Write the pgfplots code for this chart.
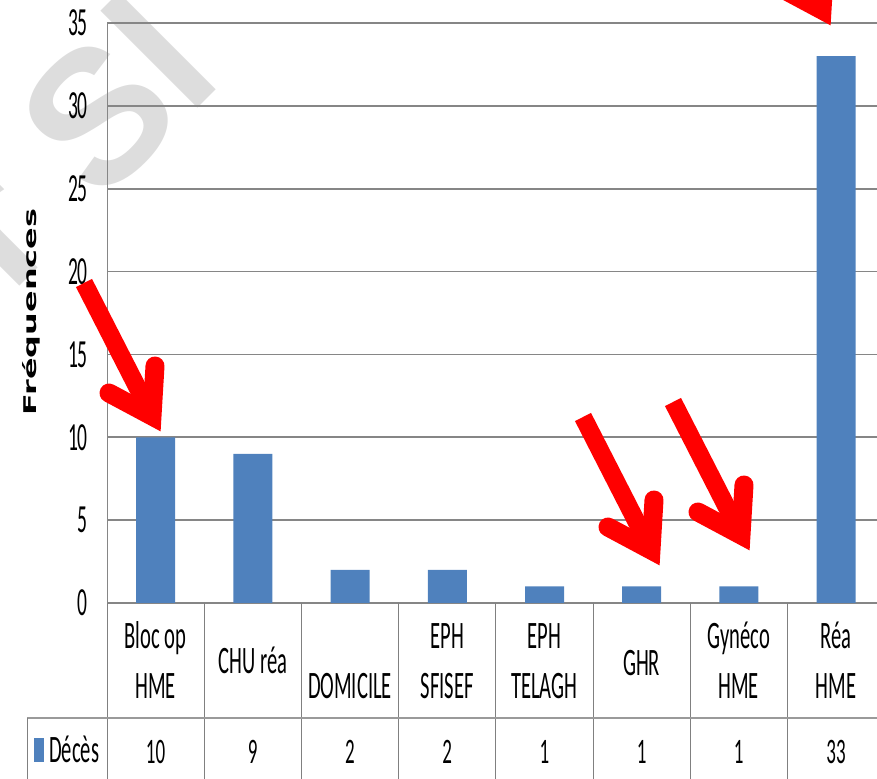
\documentclass[border=0pt]{standalone}
\usepackage{fontspec}
\setmainfont{Carlito}
\newfontfamily\labfont[FakeStretch=0.53]{Carlito}
\newfontfamily\tickfont[FakeStretch=0.49]{Carlito}
\newfontfamily\ylabfont{DejaVu Sans}
\newfontfamily\wmfont{Liberation Sans}
\usepackage{pgfplots}
\pgfplotsset{compat=1.18}

\definecolor{barblue}{RGB}{79,129,189}
\definecolor{gridgray}{RGB}{134,134,134}
\definecolor{tablegray}{RGB}{128,128,128}
\definecolor{wmgray}{RGB}{221,221,221}

\newcommand{\lab}{\labfont\fontsize{39}{44}\selectfont}
\newcommand{\val}{\labfont\fontsize{36}{40}\selectfont}

% thick red pointer; #1,#2 = tip position (x right, y down from top)
\newcommand{\redarrow}[2]{%
  \draw[red, line width=18bp, line cap=butt]
    ({#1-74},{779-#2+150}) -- ({#1-6},{779-#2+17});
  \draw[red, line width=19bp, line cap=round, line join=miter]
    ({#1-49},{779-#2+40}) -- ({#1-6},{779-#2+17}) -- ({#1-3},{779-#2+67});
}

\begin{document}
\begin{tikzpicture}
\useasboundingbox (0,0) rectangle (877bp,779bp);
\clip (0,0) rectangle (877bp,779bp);

% faint watermark behind the chart
\begin{scope}[x=1bp,y=1bp]
\node[text=wmgray, font=\wmfont\bfseries\fontsize{190}{190}\selectfont,
      rotate=45, anchor=base west, inner sep=0pt] at (10,483) {r Sl};
\end{scope}

\begin{axis}[
  at={(107bp,176bp)}, anchor=south west,
  scale only axis, width=770bp, height=580bp,
  xmin=-0.5, xmax=7.42, ymin=0, ymax=35,
  ytick={0,5,...,35}, xtick=\empty,
  axis lines*=left,
  axis line style={draw=gridgray, line width=1bp},
  x axis line style={line width=1.8bp},
  ymajorgrids,
  major grid style={draw=gridgray, line width=1.6bp},
  major tick length=0pt,
  /pgf/number format/assume math mode=true,
  yticklabel style={font=\tickfont\fontsize{40}{40}\selectfont,
    anchor=east, inner sep=0pt, xshift=-19bp},
  ybar, bar width=39bp, bar shift=0pt,
]
\addplot[draw=none, fill=barblue] coordinates {
  (0,10) (1,9) (2,2) (3,2) (4,1) (5,1) (6,1) (7,33)
};
\end{axis}

\begin{scope}[x=1bp,y=1bp]
% data table under the axis
\foreach \k in {0,...,8} {
  \draw[tablegray, line width=1bp] ({107+97.2*\k},176) -- ({107+97.2*\k},0);
}
\draw[tablegray!80, line width=1.8bp] (27,61) -- (877,61);
\draw[tablegray, line width=1bp] (27,61) -- (27,0);

\node[font=\lab, anchor=base, inner sep=0pt] at (155.6,131) {Bloc op};
\node[font=\lab, anchor=base, inner sep=0pt] at (155.6,81) {HME};
\node[font=\lab, anchor=base, inner sep=0pt] at (252.8,106) {CHU réa};
\node[font=\lab, anchor=base, inner sep=0pt] at (350.0,81) {DOMICILE};
\node[font=\lab, anchor=base, inner sep=0pt] at (447.2,131) {EPH};
\node[font=\lab, anchor=base, inner sep=0pt] at (447.2,81) {SFISEF};
\node[font=\lab, anchor=base, inner sep=0pt] at (544.4,131) {EPH};
\node[font=\lab, anchor=base, inner sep=0pt] at (544.4,81) {TELAGH};
\node[font=\lab, anchor=base, inner sep=0pt] at (641.6,104) {GHR};
\node[font=\lab, anchor=base, inner sep=0pt] at (738.8,131) {Gynéco};
\node[font=\lab, anchor=base, inner sep=0pt] at (738.8,81) {HME};
\node[font=\lab, anchor=base, inner sep=0pt] at (836.0,131) {Réa};
\node[font=\lab, anchor=base, inner sep=0pt] at (836.0,81) {HME};

\fill[barblue] (34,17) rectangle (44,41);
\node[font=\lab, anchor=base west, inner sep=0pt] at (49,17) {Décès};
\foreach \x/\v in {155.6/10, 252.8/9, 350.0/2, 447.2/2, 544.4/1, 641.6/1, 738.8/1, 836.0/33} {
  \node[font=\val, anchor=base, inner sep=0pt] at (\x,16) {\v};
}

% y axis title
\node[rotate=90, inner sep=0pt] at (31,467)
  {\scalebox{1}[0.55]{\ylabfont\bfseries\fontsize{32}{32}\selectfont Fréquences}};

% pointers
\redarrow{158}{433}
\redarrow{657}{567}
\redarrow{747}{552}
\redarrow{828}{27}
\end{scope}
\end{tikzpicture}
\end{document}
